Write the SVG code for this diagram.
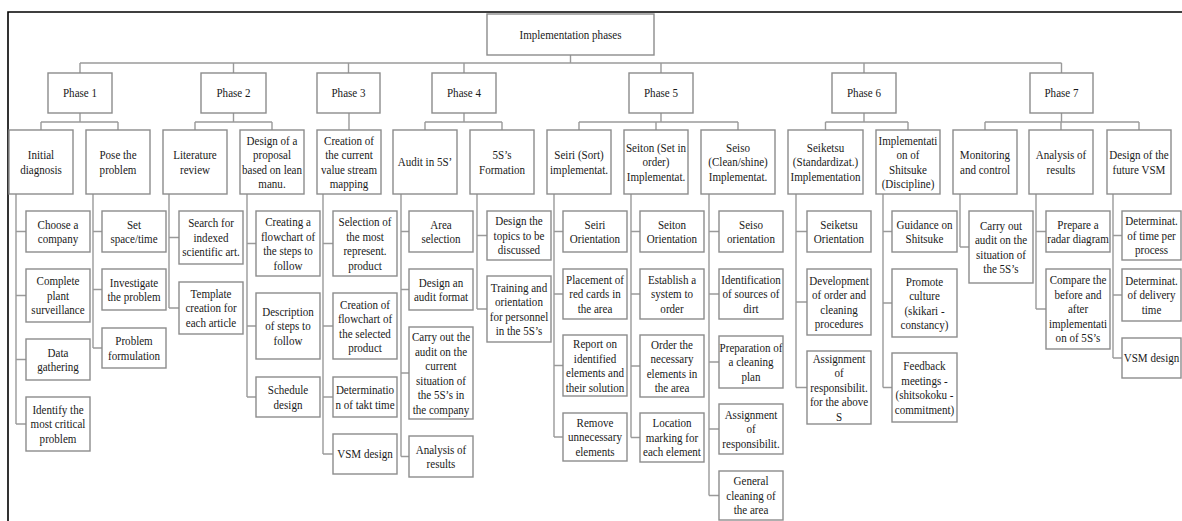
<svg xmlns="http://www.w3.org/2000/svg" width="1182" height="521" viewBox="0 0 1182 521">
<style>
.b{fill:#fff;stroke:#8c8c8c;stroke-width:1.4}
.c{fill:none;stroke:#9a9a9a;stroke-width:1.4}
.t{font-family:"Liberation Serif","Times New Roman",serif;font-size:13px;fill:#1a1a1a;text-anchor:middle}
.f{fill:none;stroke:#000;stroke-width:1.6}
</style>
<rect width="1182" height="521" fill="#fff"/>
<path class="f" d="M8 521V12H1182"/>
<g id="connectors">
<path class="c" d="M570.5 55V63M80 63H1061.5M80 63V73M233.5 63V73M348.5 63V73M464 63V73M661 63V73M864 63V73M1061.5 63V73"/>
<path class="c" d="M80 113V122M41 122H118M41 122V130M118 122V130M233.5 113V122M195 122H272M195 122V130M272 122V130M349 113V130M464 113V122M425 122H502M425 122V130M502 122V130M661 113V122M579 122H738M579 122V130M656 122V130M738 122V130M864 113V122M825.5 122H908M825.5 122V130M908 122V130M1061.5 113V122M985 122H1139M985 122V130M1061 122V130M1139 122V130"/>
<path class="c" d="M16 194V424M16 231.5H26M16 295.5H26M16 359.5H26M16 424H26"/>
<path class="c" d="M93 194V348M93 231.5H102M93 289.5H102M93 348H102"/>
<path class="c" d="M169 194V308M169 237.5H179M169 308H179"/>
<path class="c" d="M247 194V397M247 243.5H256M247 326H256M247 397H256"/>
<path class="c" d="M323 194V454M323 243.5H333M323 326H333M323 397H333M323 454H333"/>
<path class="c" d="M401 194V456.5M401 231.5H409M401 289.5H409M401 373H409M401 456.5H409"/>
<path class="c" d="M477 194V309M477 235.5H487M477 309H487"/>
<path class="c" d="M554 194V437M554 231.5H563M554 294H563M554 365.5H563M554 437H563"/>
<path class="c" d="M631 194V437.5M631 231.5H640M631 294H640M631 366H640M631 437.5H640"/>
<path class="c" d="M709 194V495.5M709 231.5H719M709 294H719M709 362H719M709 429H719M709 495.5H719"/>
<path class="c" d="M796 194V387.5M796 231.5H807M796 302H807M796 387.5H807"/>
<path class="c" d="M883 194V387.5M883 231.5H892M883 303H892M883 387.5H892"/>
<path class="c" d="M960 194V247M960 247H969"/>
<path class="c" d="M1036 194V309M1036 231.5H1046M1036 309H1046"/>
<path class="c" d="M1113 194V358M1113 235.5H1122M1113 295H1122M1113 358H1122"/>
</g>
<g id="root"><rect class="b" x="487" y="14" width="167" height="41"/><text class="t" transform="translate(570.5 0) scale(.85 1)"><tspan x="0" y="39">Implementation phases</tspan></text></g>
<g id="phase1"><rect class="b" x="48" y="73" width="64" height="40"/><text class="t" transform="translate(80 0) scale(.85 1)"><tspan x="0" y="97.5">Phase 1</tspan></text></g>
<g id="phase2"><rect class="b" x="201" y="73" width="65" height="40"/><text class="t" transform="translate(233.5 0) scale(.85 1)"><tspan x="0" y="97.5">Phase 2</tspan></text></g>
<g id="phase3"><rect class="b" x="317" y="73" width="63" height="40"/><text class="t" transform="translate(348.5 0) scale(.85 1)"><tspan x="0" y="97.5">Phase 3</tspan></text></g>
<g id="phase4"><rect class="b" x="432" y="73" width="64" height="40"/><text class="t" transform="translate(464 0) scale(.85 1)"><tspan x="0" y="97.5">Phase 4</tspan></text></g>
<g id="phase5"><rect class="b" x="629" y="73" width="64" height="40"/><text class="t" transform="translate(661 0) scale(.85 1)"><tspan x="0" y="97.5">Phase 5</tspan></text></g>
<g id="phase6"><rect class="b" x="832" y="73" width="64" height="40"/><text class="t" transform="translate(864 0) scale(.85 1)"><tspan x="0" y="97.5">Phase 6</tspan></text></g>
<g id="phase7"><rect class="b" x="1030" y="73" width="63" height="40"/><text class="t" transform="translate(1061.5 0) scale(.85 1)"><tspan x="0" y="97.5">Phase 7</tspan></text></g>

<g id="initial-diagnosis"><rect class="b" x="9" y="130" width="64" height="64"/><text class="t" transform="translate(41 0) scale(.85 1)"><tspan x="0" y="159.3">Initial</tspan><tspan x="0" y="173.8">diagnosis</tspan></text></g>
<g id="pose-problem"><rect class="b" x="86" y="130" width="64" height="64"/><text class="t" transform="translate(118 0) scale(.85 1)"><tspan x="0" y="159.3">Pose the</tspan><tspan x="0" y="173.8">problem</tspan></text></g>
<g id="literature-review"><rect class="b" x="163" y="130" width="64" height="64"/><text class="t" transform="translate(195 0) scale(.85 1)"><tspan x="0" y="159.3">Literature</tspan><tspan x="0" y="173.8">review</tspan></text></g>
<g id="design-proposal"><rect class="b" x="240" y="130" width="64" height="64"/><text class="t" transform="translate(272 0) scale(.85 1)"><tspan x="0" y="144.8">Design of a</tspan><tspan x="0" y="159.3">proposal</tspan><tspan x="0" y="173.8">based on lean</tspan><tspan x="0" y="188.3">manu.</tspan></text></g>
<g id="current-vsm"><rect class="b" x="317" y="130" width="64" height="64"/><text class="t" transform="translate(349 0) scale(.85 1)"><tspan x="0" y="144.8">Creation of</tspan><tspan x="0" y="159.3">the current</tspan><tspan x="0" y="173.8">value stream</tspan><tspan x="0" y="188.3">mapping</tspan></text></g>
<g id="audit-5s"><rect class="b" x="393" y="130" width="64" height="64"/><text class="t" transform="translate(425 0) scale(.85 1)"><tspan x="0" y="166.5">Audit in 5S’</tspan></text></g>
<g id="formation-5s"><rect class="b" x="470" y="130" width="64" height="64"/><text class="t" transform="translate(502 0) scale(.85 1)"><tspan x="0" y="159.3">5S’s</tspan><tspan x="0" y="173.8">Formation</tspan></text></g>
<g id="seiri"><rect class="b" x="547" y="130" width="64" height="64"/><text class="t" transform="translate(579 0) scale(.85 1)"><tspan x="0" y="159.3">Seiri (Sort)</tspan><tspan x="0" y="173.8">implementat.</tspan></text></g>
<g id="seiton"><rect class="b" x="624" y="130" width="64" height="64"/><text class="t" transform="translate(656 0) scale(.85 1)"><tspan x="0" y="152">Seiton (Set in</tspan><tspan x="0" y="166.5">order)</tspan><tspan x="0" y="181">Implementat.</tspan></text></g>
<g id="seiso"><rect class="b" x="701" y="130" width="74" height="64"/><text class="t" transform="translate(738 0) scale(.85 1)"><tspan x="0" y="152">Seiso</tspan><tspan x="0" y="166.5">(Clean/shine)</tspan><tspan x="0" y="181">Implementat.</tspan></text></g>
<g id="seiketsu"><rect class="b" x="788" y="130" width="75" height="64"/><text class="t" transform="translate(825.5 0) scale(.85 1)"><tspan x="0" y="152">Seiketsu</tspan><tspan x="0" y="166.5">(Standardizat.)</tspan><tspan x="0" y="181">Implementation</tspan></text></g>
<g id="shitsuke"><rect class="b" x="876" y="130" width="64" height="64"/><text class="t" transform="translate(908 0) scale(.85 1)"><tspan x="0" y="144.8">Implementati</tspan><tspan x="0" y="159.3">on of</tspan><tspan x="0" y="173.8">Shitsuke</tspan><tspan x="0" y="188.3">(Discipline)</tspan></text></g>
<g id="monitoring"><rect class="b" x="953" y="130" width="64" height="64"/><text class="t" transform="translate(985 0) scale(.85 1)"><tspan x="0" y="159.3">Monitoring</tspan><tspan x="0" y="173.8">and control</tspan></text></g>
<g id="analysis"><rect class="b" x="1029" y="130" width="64" height="64"/><text class="t" transform="translate(1061 0) scale(.85 1)"><tspan x="0" y="159.3">Analysis of</tspan><tspan x="0" y="173.8">results</tspan></text></g>
<g id="future-vsm"><rect class="b" x="1107" y="130" width="64" height="64"/><text class="t" transform="translate(1139 0) scale(.85 1)"><tspan x="0" y="159.3">Design of the</tspan><tspan x="0" y="173.8">future VSM</tspan></text></g>

<g id="c1-1"><rect class="b" x="26" y="211" width="64" height="41"/><text class="t" transform="translate(58 0) scale(.85 1)"><tspan x="0" y="228.8">Choose a</tspan><tspan x="0" y="243.3">company</tspan></text></g>
<g id="c1-2"><rect class="b" x="26" y="269" width="64" height="53"/><text class="t" transform="translate(58 0) scale(.85 1)"><tspan x="0" y="285.5">Complete</tspan><tspan x="0" y="300">plant</tspan><tspan x="0" y="314.5">surveillance</tspan></text></g>
<g id="c1-3"><rect class="b" x="26" y="339" width="64" height="41"/><text class="t" transform="translate(58 0) scale(.85 1)"><tspan x="0" y="356.8">Data</tspan><tspan x="0" y="371.3">gathering</tspan></text></g>
<g id="c1-4"><rect class="b" x="26" y="397" width="64" height="54"/><text class="t" transform="translate(58 0) scale(.85 1)"><tspan x="0" y="414">Identify the</tspan><tspan x="0" y="428.5">most critical</tspan><tspan x="0" y="443">problem</tspan></text></g>

<g id="c2-1"><rect class="b" x="102" y="211" width="64" height="41"/><text class="t" transform="translate(134 0) scale(.85 1)"><tspan x="0" y="228.8">Set</tspan><tspan x="0" y="243.3">space/time</tspan></text></g>
<g id="c2-2"><rect class="b" x="102" y="269" width="64" height="41"/><text class="t" transform="translate(134 0) scale(.85 1)"><tspan x="0" y="286.8">Investigate</tspan><tspan x="0" y="301.3">the problem</tspan></text></g>
<g id="c2-3"><rect class="b" x="102" y="328" width="64" height="40"/><text class="t" transform="translate(134 0) scale(.85 1)"><tspan x="0" y="345.3">Problem</tspan><tspan x="0" y="359.8">formulation</tspan></text></g>

<g id="c3-1"><rect class="b" x="179" y="211" width="64" height="53"/><text class="t" transform="translate(211 0) scale(.85 1)"><tspan x="0" y="227.5">Search for</tspan><tspan x="0" y="242">indexed</tspan><tspan x="0" y="256.5">scientific art.</tspan></text></g>
<g id="c3-2"><rect class="b" x="179" y="282" width="64" height="52"/><text class="t" transform="translate(211 0) scale(.85 1)"><tspan x="0" y="298">Template</tspan><tspan x="0" y="312.5">creation for</tspan><tspan x="0" y="327">each article</tspan></text></g>

<g id="c4-1"><rect class="b" x="256" y="211" width="64" height="65"/><text class="t" transform="translate(288 0) scale(.85 1)"><tspan x="0" y="226.3">Creating a</tspan><tspan x="0" y="240.8">flowchart of</tspan><tspan x="0" y="255.3">the steps to</tspan><tspan x="0" y="269.8">follow</tspan></text></g>
<g id="c4-2"><rect class="b" x="256" y="293" width="64" height="66"/><text class="t" transform="translate(288 0) scale(.85 1)"><tspan x="0" y="316">Description</tspan><tspan x="0" y="330.5">of steps to</tspan><tspan x="0" y="345">follow</tspan></text></g>
<g id="c4-3"><rect class="b" x="256" y="377" width="64" height="40"/><text class="t" transform="translate(288 0) scale(.85 1)"><tspan x="0" y="394.3">Schedule</tspan><tspan x="0" y="408.8">design</tspan></text></g>

<g id="c5-1"><rect class="b" x="333" y="211" width="64" height="65"/><text class="t" transform="translate(365 0) scale(.85 1)"><tspan x="0" y="226.3">Selection of</tspan><tspan x="0" y="240.8">the most</tspan><tspan x="0" y="255.3">represent.</tspan><tspan x="0" y="269.8">product</tspan></text></g>
<g id="c5-2"><rect class="b" x="333" y="293" width="64" height="66"/><text class="t" transform="translate(365 0) scale(.85 1)"><tspan x="0" y="308.8">Creation of</tspan><tspan x="0" y="323.3">flowchart of</tspan><tspan x="0" y="337.8">the selected</tspan><tspan x="0" y="352.3">product</tspan></text></g>
<g id="c5-3"><rect class="b" x="333" y="377" width="64" height="40"/><text class="t" transform="translate(365 0) scale(.85 1)"><tspan x="0" y="394.3">Determinatio</tspan><tspan x="0" y="408.8">n of takt time</tspan></text></g>
<g id="c5-4"><rect class="b" x="333" y="434" width="64" height="40"/><text class="t" transform="translate(365 0) scale(.85 1)"><tspan x="0" y="458.5">VSM design</tspan></text></g>

<g id="c6-1"><rect class="b" x="409" y="211" width="64" height="41"/><text class="t" transform="translate(441 0) scale(.85 1)"><tspan x="0" y="228.8">Area</tspan><tspan x="0" y="243.3">selection</tspan></text></g>
<g id="c6-2"><rect class="b" x="409" y="269" width="64" height="41"/><text class="t" transform="translate(441 0) scale(.85 1)"><tspan x="0" y="286.8">Design an</tspan><tspan x="0" y="301.3">audit format</tspan></text></g>
<g id="c6-3"><rect class="b" x="409" y="327" width="64" height="92"/><text class="t" transform="translate(441 0) scale(.85 1)"><tspan x="0" y="341.3">Carry out the</tspan><tspan x="0" y="355.8">audit on the</tspan><tspan x="0" y="370.3">current</tspan><tspan x="0" y="384.8">situation of</tspan><tspan x="0" y="399.3">the 5S’s in</tspan><tspan x="0" y="413.8">the company</tspan></text></g>
<g id="c6-4"><rect class="b" x="409" y="436" width="64" height="41"/><text class="t" transform="translate(441 0) scale(.85 1)"><tspan x="0" y="453.8">Analysis of</tspan><tspan x="0" y="468.3">results</tspan></text></g>

<g id="c7-1"><rect class="b" x="487" y="211" width="64" height="49"/><text class="t" transform="translate(519 0) scale(.85 1)"><tspan x="0" y="225.5">Design the</tspan><tspan x="0" y="240">topics to be</tspan><tspan x="0" y="254.5">discussed</tspan></text></g>
<g id="c7-2"><rect class="b" x="487" y="276" width="64" height="66"/><text class="t" transform="translate(519 0) scale(.85 1)"><tspan x="0" y="291.8">Training and</tspan><tspan x="0" y="306.3">orientation</tspan><tspan x="0" y="320.8">for personnel</tspan><tspan x="0" y="335.3">in the 5S’s</tspan></text></g>

<g id="c8-1"><rect class="b" x="563" y="211" width="64" height="41"/><text class="t" transform="translate(595 0) scale(.85 1)"><tspan x="0" y="228.8">Seiri</tspan><tspan x="0" y="243.3">Orientation</tspan></text></g>
<g id="c8-2"><rect class="b" x="563" y="269" width="64" height="50"/><text class="t" transform="translate(595 0) scale(.85 1)"><tspan x="0" y="284">Placement of</tspan><tspan x="0" y="298.5">red cards in</tspan><tspan x="0" y="313">the area</tspan></text></g>
<g id="c8-3"><rect class="b" x="563" y="335" width="64" height="61"/><text class="t" transform="translate(595 0) scale(.85 1)"><tspan x="0" y="348.3">Report on</tspan><tspan x="0" y="362.8">identified</tspan><tspan x="0" y="377.3">elements and</tspan><tspan x="0" y="391.8">their solution</tspan></text></g>
<g id="c8-4"><rect class="b" x="563" y="413" width="64" height="48"/><text class="t" transform="translate(595 0) scale(.85 1)"><tspan x="0" y="427">Remove</tspan><tspan x="0" y="441.5">unnecessary</tspan><tspan x="0" y="456">elements</tspan></text></g>

<g id="c9-1"><rect class="b" x="640" y="211" width="64" height="41"/><text class="t" transform="translate(672 0) scale(.85 1)"><tspan x="0" y="228.8">Seiton</tspan><tspan x="0" y="243.3">Orientation</tspan></text></g>
<g id="c9-2"><rect class="b" x="640" y="269" width="64" height="50"/><text class="t" transform="translate(672 0) scale(.85 1)"><tspan x="0" y="284">Establish a</tspan><tspan x="0" y="298.5">system to</tspan><tspan x="0" y="313">order</tspan></text></g>
<g id="c9-3"><rect class="b" x="640" y="335" width="64" height="62"/><text class="t" transform="translate(672 0) scale(.85 1)"><tspan x="0" y="348.8">Order the</tspan><tspan x="0" y="363.3">necessary</tspan><tspan x="0" y="377.8">elements in</tspan><tspan x="0" y="392.3">the area</tspan></text></g>
<g id="c9-4"><rect class="b" x="640" y="413" width="64" height="49"/><text class="t" transform="translate(672 0) scale(.85 1)"><tspan x="0" y="427.5">Location</tspan><tspan x="0" y="442">marking for</tspan><tspan x="0" y="456.5">each element</tspan></text></g>

<g id="c10-1"><rect class="b" x="719" y="211" width="64" height="41"/><text class="t" transform="translate(751 0) scale(.85 1)"><tspan x="0" y="228.8">Seiso</tspan><tspan x="0" y="243.3">orientation</tspan></text></g>
<g id="c10-2"><rect class="b" x="719" y="269" width="64" height="50"/><text class="t" transform="translate(751 0) scale(.85 1)"><tspan x="0" y="284">Identification</tspan><tspan x="0" y="298.5">of sources of</tspan><tspan x="0" y="313">dirt</tspan></text></g>
<g id="c10-3"><rect class="b" x="719" y="336" width="64" height="52"/><text class="t" transform="translate(751 0) scale(.85 1)"><tspan x="0" y="352">Preparation of</tspan><tspan x="0" y="366.5">a cleaning</tspan><tspan x="0" y="381">plan</tspan></text></g>
<g id="c10-4"><rect class="b" x="719" y="404" width="64" height="50"/><text class="t" transform="translate(751 0) scale(.85 1)"><tspan x="0" y="419">Assignment</tspan><tspan x="0" y="433.5">of</tspan><tspan x="0" y="448">responsibilit.</tspan></text></g>
<g id="c10-5"><rect class="b" x="719" y="471" width="64" height="49"/><text class="t" transform="translate(751 0) scale(.85 1)"><tspan x="0" y="485.5">General</tspan><tspan x="0" y="500">cleaning of</tspan><tspan x="0" y="514.5">the area</tspan></text></g>

<g id="c11-1"><rect class="b" x="807" y="211" width="64" height="41"/><text class="t" transform="translate(839 0) scale(.85 1)"><tspan x="0" y="228.8">Seiketsu</tspan><tspan x="0" y="243.3">Orientation</tspan></text></g>
<g id="c11-2"><rect class="b" x="807" y="269" width="64" height="66"/><text class="t" transform="translate(839 0) scale(.85 1)"><tspan x="0" y="284.8">Development</tspan><tspan x="0" y="299.3">of order and</tspan><tspan x="0" y="313.8">cleaning</tspan><tspan x="0" y="328.3">procedures</tspan></text></g>
<g id="c11-3"><rect class="b" x="807" y="351" width="64" height="73"/><text class="t" transform="translate(839 0) scale(.85 1)"><tspan x="0" y="363">Assignment</tspan><tspan x="0" y="377.5">of</tspan><tspan x="0" y="392">responsibilit.</tspan><tspan x="0" y="406.5">for the above</tspan><tspan x="0" y="421">S</tspan></text></g>

<g id="c12-1"><rect class="b" x="892" y="211" width="65" height="41"/><text class="t" transform="translate(924.5 0) scale(.85 1)"><tspan x="0" y="228.8">Guidance on</tspan><tspan x="0" y="243.3">Shitsuke</tspan></text></g>
<g id="c12-2"><rect class="b" x="892" y="269" width="65" height="68"/><text class="t" transform="translate(924.5 0) scale(.85 1)"><tspan x="0" y="285.8">Promote</tspan><tspan x="0" y="300.3">culture</tspan><tspan x="0" y="314.8">(skikari -</tspan><tspan x="0" y="329.3">constancy)</tspan></text></g>
<g id="c12-3"><rect class="b" x="892" y="353" width="65" height="69"/><text class="t" transform="translate(924.5 0) scale(.85 1)"><tspan x="0" y="370.3">Feedback</tspan><tspan x="0" y="384.8">meetings -</tspan><tspan x="0" y="399.3">(shitsokoku -</tspan><tspan x="0" y="413.8">commitment)</tspan></text></g>

<g id="c13-1"><rect class="b" x="969" y="211" width="64" height="72"/><text class="t" transform="translate(1001 0) scale(.85 1)"><tspan x="0" y="229.8">Carry out</tspan><tspan x="0" y="244.3">audit on the</tspan><tspan x="0" y="258.8">situation of</tspan><tspan x="0" y="273.3">the 5S’s</tspan></text></g>

<g id="c14-1"><rect class="b" x="1046" y="211" width="64" height="41"/><text class="t" transform="translate(1078 0) scale(.85 1)"><tspan x="0" y="228.8">Prepare a</tspan><tspan x="0" y="243.3">radar diagram</tspan></text></g>
<g id="c14-2"><rect class="b" x="1046" y="269" width="64" height="80"/><text class="t" transform="translate(1078 0) scale(.85 1)"><tspan x="0" y="284.5">Compare the</tspan><tspan x="0" y="299">before and</tspan><tspan x="0" y="313.5">after</tspan><tspan x="0" y="328">implementati</tspan><tspan x="0" y="342.5">on of 5S’s</tspan></text></g>

<g id="c15-1"><rect class="b" x="1122" y="211" width="59" height="49"/><text class="t" transform="translate(1151.5 0) scale(.85 1)"><tspan x="0" y="225.5">Determinat.</tspan><tspan x="0" y="240">of time per</tspan><tspan x="0" y="254.5">process</tspan></text></g>
<g id="c15-2"><rect class="b" x="1122" y="269" width="59" height="52"/><text class="t" transform="translate(1151.5 0) scale(.85 1)"><tspan x="0" y="285">Determinat.</tspan><tspan x="0" y="299.5">of delivery</tspan><tspan x="0" y="314">time</tspan></text></g>
<g id="c15-3"><rect class="b" x="1122" y="338" width="59" height="40"/><text class="t" transform="translate(1151.5 0) scale(.85 1)"><tspan x="0" y="362.5">VSM design</tspan></text></g>
</svg>
